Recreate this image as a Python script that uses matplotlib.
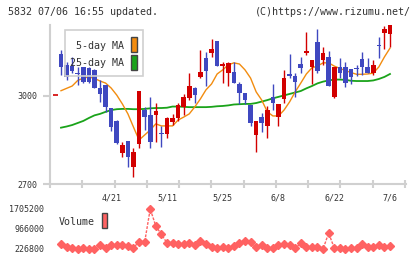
import numpy as np
import matplotlib
matplotlib.use("Agg")
import matplotlib.pyplot as plt
from matplotlib.patches import Rectangle

# ---------------- data ----------------
title_left = "5832 07/06 16:55 updated."
title_right = "(C)https://www.rizumu.net/"
date_labels = ["4/21", "5/11", "5/25", "6/8", "6/22", "7/6"]
date_label_idx = [9, 19, 29, 39, 49, 59]

lead_price = 3004  # partial candle left of the first day

opens = [3142, 3106, 3101, 3075, 3098, 3094, 3089, 3026, 3038, 2959,
         2916, 2807, 2848, 2759, 2836, 2952, 2935, 2935, 2872, 2871,
         2912, 2924, 2962, 2992, 3026, 3064, 3131, 3148, 3188, 3103,
         3079, 3083, 3041, 3011, 2968, 2867, 2929, 2898, 2998, 2929,
         2989, 3075, 3068, 3109, 3148, 3099, 3185, 3123, 3134, 2998,
         3100, 3100, 3091, 3091, 3126, 3100, 3077, 3169, 3215, 3211]
highs = [3157, 3117, 3133, 3098, 3100, 3100, 3092, 3053, 3038, 2960,
         2918, 2844, 2848, 2822, 3018, 2961, 2996, 2975, 2897, 2930,
         2939, 2976, 3007, 3079, 3032, 3157, 3151, 3194, 3188, 3117,
         3117, 3117, 3048, 3011, 2969, 2916, 2943, 2966, 3041, 2972,
         3089, 3143, 3079, 3134, 3217, 3123, 3227, 3166, 3153, 3100,
         3130, 3117, 3092, 3107, 3150, 3131, 3123, 3200, 3239, 3242]
lows = [3072, 3055, 3080, 3038, 3044, 3043, 3026, 2981, 2947, 2882,
        2838, 2791, 2757, 2725, 2822, 2884, 2822, 2844, 2825, 2857,
        2901, 2915, 2935, 2986, 2977, 3060, 3034, 3134, 3103, 3043,
        3034, 3045, 2974, 2973, 2899, 2810, 2878, 2856, 2952, 2897,
        2977, 3060, 2996, 3079, 3140, 3041, 3079, 3106, 3034, 2992,
        3061, 3031, 3040, 3067, 3072, 3077, 3072, 3131, 3160, 3168]
closes = [3100, 3066, 3085, 3075, 3049, 3048, 3027, 3008, 2961, 2895,
          2841, 2833, 2793, 2808, 3018, 2927, 2844, 2950, 2869, 2924,
          2926, 2969, 2998, 3034, 3003, 3083, 3085, 3160, 3103, 3108,
          3114, 3045, 3011, 2987, 2909, 2916, 2907, 2952, 2977, 2972,
          3060, 3068, 3049, 3094, 3153, 3123, 3086, 3145, 3034, 3100,
          3079, 3045, 3066, 3091, 3100, 3077, 3106, 3169, 3227, 3242]

ma5 = [3018, 3026, 3034, 3053, 3061, 3065, 3060, 3051, 3044, 3027,
       3003, 2973, 2939, 2894, 2850, 2867, 2884, 2905, 2898, 2898,
       2898, 2918, 2928, 2939, 2963, 2990, 3021, 3041, 3075, 3089,
       3106, 3113, 3109, 3089, 3061, 3014, 2986, 2946, 2932, 2932,
       2952, 2980, 3014, 3044, 3075, 3096, 3102, 3113, 3113, 3102,
       3094, 3087, 3080, 3074, 3074, 3075, 3078, 3099, 3133, 3163]
ma25 = [2892, 2896, 2901, 2908, 2915, 2925, 2934, 2939, 2946, 2952,
        2955, 2956, 2956, 2955, 2955, 2956, 2958, 2959, 2959, 2960,
        2964, 2964, 2963, 2962, 2962, 2962, 2962, 2963, 2965, 2966,
        2968, 2971, 2972, 2973, 2973, 2976, 2981, 2986, 2992, 2997,
        3002, 3007, 3012, 3017, 3026, 3034, 3043, 3049, 3053, 3056,
        3056, 3055, 3052, 3051, 3051, 3051, 3053, 3058, 3065, 3075]

volumes = [400000, 290000, 253000, 227000, 253000, 226800, 227000, 386000, 264000, 364000,
           386000, 364000, 338000, 275000, 497000, 474000, 1705200, 1077000, 770000, 449000,
           437000, 412000, 412000, 460000, 375000, 534000, 400000, 312000, 253000, 290000,
           264000, 327000, 437000, 534000, 474000, 301000, 364000, 253000, 253000, 364000,
           400000, 364000, 253000, 437000, 312000, 290000, 312000, 227000, 818000, 264000,
           253000, 227000, 253000, 253000, 400000, 312000, 312000, 386000, 312000, 349000]

price_ticks = [2700, 3000]
vol_ticks = [226800, 966000, 1705200]

# ---------------- style ----------------
RED = "#d20000"
BLUE = "#3f48c0"
ORANGE = "#f28c0f"
GREEN = "#1aa31a"
VOLC = "#ff6262"
GRID = "#d0d0d0"
TXT = "#333333"
FONT = "DejaVu Sans Mono"

W, H = 420, 259
fig = plt.figure(figsize=(W / 100, H / 100), dpi=100)
fig.patch.set_facecolor("white")


def fr(x0, y0, x1, y1):
    return [x0 / W, 1 - y1 / H, (x1 - x0) / W, (y1 - y0) / H]


def px(x, y):
    return x / W, 1 - y / H


# candle index -> pixel mapping: x = 61 + 5.576*i
X0, DX = 61.0, 5.576
xl = ((50 - X0) / DX, (406 - X0) / DX)

ax = fig.add_axes(fr(50, 25, 406, 184))
ax.set_xlim(*xl)
ax.set_ylim(2700, 3242)
ax.set_facecolor("none")

n = len(closes)
idx = np.arange(n)
o = np.array(opens, float)
c = np.array(closes, float)
hi = np.array(highs, float)
lo = np.array(lows, float)
up = c > o
cols = [RED if u else BLUE for u in up]

# moving averages
ax.plot(idx, ma25, color=GREEN, lw=1.3, zorder=2)
ax.plot(idx, ma5, color=ORANGE, lw=1.0, zorder=2)

# candles
ax.vlines(idx, lo, hi, colors=cols, lw=1.0, zorder=3)
bot = np.minimum(o, c)
hgt = np.maximum(np.abs(c - o), 3.5)
ax.bar(idx, hgt, bottom=bot, width=0.82, color=cols, linewidth=0, zorder=4)
ax.hlines([lead_price], -1 - 0.41, -1 + 0.41, colors=RED, lw=1.2, zorder=4)

for s in ["top", "right"]:
    ax.spines[s].set_visible(False)
for s in ["left", "bottom"]:
    ax.spines[s].set_color(GRID)
    ax.spines[s].set_linewidth(1.5)

ax.set_yticks(price_ticks)
ax.set_yticklabels([f"{v}" for v in price_ticks], fontfamily=FONT, fontsize=6, color=TXT)
ax.tick_params(axis="y", length=5, width=1.5, color=GRID, pad=4)

ax.set_xticks(date_label_idx)
ax.set_xticklabels(date_labels, fontfamily=FONT, fontsize=6, color=TXT)
ax.tick_params(axis="x", which="major", length=0, pad=7)
tick_px = 50 + 32.27 * np.arange(12)
ax.set_xticks((tick_px - X0) / DX, minor=True)
ax.tick_params(axis="x", which="minor", length=6, width=1.5, color=GRID, direction="inout")

# legend box for MAs
fig.patches.append(Rectangle(px(65, 76), 78 / W, 46 / H, transform=fig.transFigure,
                             fill=False, edgecolor=GRID, lw=1.2, zorder=1))
fig.text(*px(124, 46), "5-day MA", ha="right", va="center", fontfamily=FONT,
         fontsize=7.2, color=TXT)
fig.text(*px(124, 62.7), "25-day MA", ha="right", va="center", fontfamily=FONT,
         fontsize=7.2, color=TXT)
fig.patches.append(Rectangle(px(131, 52.3), 6 / W, 15 / H, transform=fig.transFigure,
                             facecolor=ORANGE, edgecolor="#444444", lw=1, zorder=5))
fig.patches.append(Rectangle(px(131, 70), 6 / W, 15 / H, transform=fig.transFigure,
                             facecolor=GREEN, edgecolor="#444444", lw=1, zorder=5))

# volume panel
axv = fig.add_axes(fr(50, 209, 406, 249))
axv.set_xlim(*xl)
axv.set_ylim(min(vol_ticks), max(vol_ticks))
axv.set_facecolor("none")
for s in axv.spines.values():
    s.set_visible(False)
axv.plot(idx, volumes, color=VOLC, lw=1.0, ls=(0, (2, 1)), marker="D", ms=4.2,
         mec=VOLC, mfc=VOLC, clip_on=False)
axv.set_xticks([])
axv.set_yticks(vol_ticks)
axv.set_yticklabels([f"{v}" for v in vol_ticks], fontfamily=FONT, fontsize=6, color=TXT)
axv.tick_params(axis="y", length=0, pad=4)

fig.text(*px(59, 221.7), "Volume", ha="left", va="center", fontfamily=FONT,
         fontsize=7.2, color=TXT)
fig.patches.append(Rectangle(px(101.7, 228.3), 5.6 / W, 15 / H, transform=fig.transFigure,
                             facecolor=VOLC, edgecolor="#444444", lw=1, zorder=5))

# header texts
fig.text(*px(8, 12), title_left, ha="left", va="center", fontfamily=FONT,
         fontsize=7.2, color=TXT)
fig.text(*px(411, 12), title_right, ha="right", va="center", fontfamily=FONT,
         fontsize=7.2, color=TXT)

fig.savefig("out.png", dpi=100, facecolor="white")
